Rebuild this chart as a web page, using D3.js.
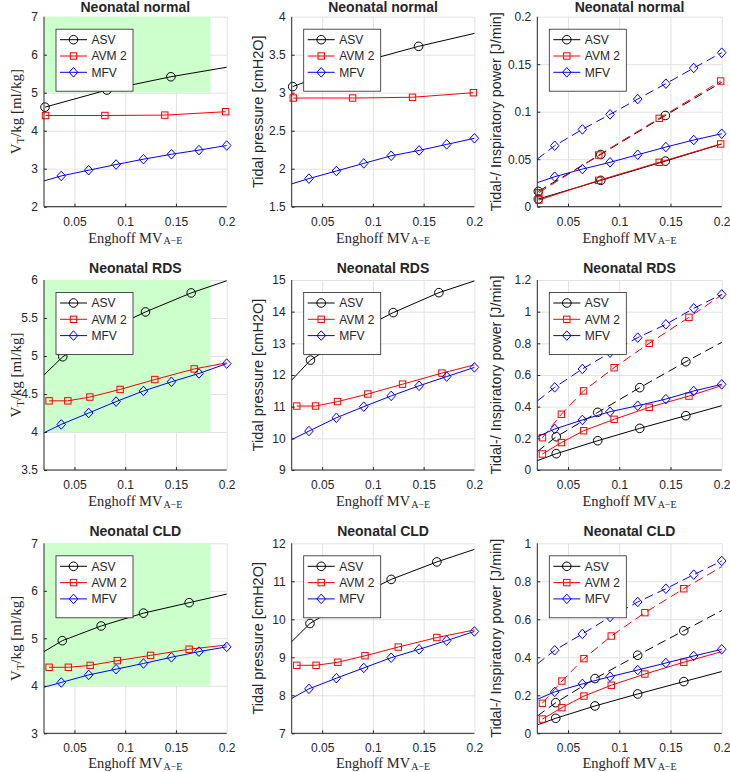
<!DOCTYPE html>
<html><head><meta charset="utf-8">
<script src="https://cdn.jsdelivr.net/npm/d3@7/dist/d3.min.js"></script>
<style>
body{margin:0;background:#fff}
svg{display:block}
text{font-family:"Liberation Sans",Arial,Helvetica,sans-serif;fill:#262626}
.serif{font-family:"Liberation Serif","Times New Roman",serif}
</style>
</head><body>
<svg id="chart" width="730" height="772"></svg>
<script>
// ---------------- DATA ----------------
const titles = ["Neonatal normal", "Neonatal RDS", "Neonatal CLD"];
const seriesNames = ["ASV", "AVM 2", "MFV"];
const xTicks = [0.05, 0.1, 0.15, 0.2];
const xDomain = [0.02, 0.2];

// x positions (Enghoff MV A-E) of each curve; marker masks (1 = marker drawn)
const xASVnorm = [0.021, 0.082, 0.145, 0.2];
const mkASVnorm = [1, 1, 1, 0];
const xAVMnorm = [0.0215, 0.08, 0.139, 0.199];
const mkAVMnorm = [1, 1, 1, 1];
const xMFV = [0.02, 0.037, 0.064, 0.091, 0.118, 0.1455, 0.1727, 0.2];
const mkMFV = [0, 1, 1, 1, 1, 1, 1, 1];
const xASVrds = [0.02, 0.0385, 0.079, 0.12, 0.165, 0.2];
const xASVcld = [0.02, 0.038, 0.0763, 0.118, 0.163, 0.2];
const mkASV = [0, 1, 1, 1, 1, 0];
const xAVMrds = [0.025, 0.0435, 0.0652, 0.095, 0.1292, 0.168, 0.2];
const xAVMcld = [0.025, 0.044, 0.0655, 0.0922, 0.125, 0.163, 0.2];
const mkAVM = [1, 1, 1, 1, 1, 1, 0];

// y tick values
const ticksVTnorm = [2, 3, 4, 5, 6, 7];
const ticksVTrds = [3.5, 4, 4.5, 5, 5.5, 6];
const ticksVTcld = [3, 4, 5, 6, 7];
const ticksPnorm = [1.5, 2, 2.5, 3, 3.5, 4];
const ticksPrds = [9, 10, 11, 12, 13, 14, 15];
const ticksPcld = [7, 8, 9, 10, 11, 12];
const ticksWnorm = [0, 0.05, 0.1, 0.15, 0.2];
const ticksWrds = [0, 0.2, 0.4, 0.6, 0.8, 1, 1.2];
const ticksWcld = [0, 0.2, 0.4, 0.6, 0.8, 1];

// green target zones [x0, x1] and [y0, y1]
const greenX = [0.02, 0.184];
const greenYnorm = [5, 7];
const greenYrds = [4, 6];
const greenYcld = [4, 7];

// Neonatal normal
const vtASVnorm = [4.62, 5.07, 5.42, 5.67];
const vtAVMnorm = [4.4, 4.4, 4.41, 4.5];
const vtMFVnorm = [2.68, 2.81, 2.96, 3.11, 3.25, 3.38, 3.49, 3.61];
const pASVnorm = [3.08, 3.38, 3.61, 3.78];
const pAVMnorm = [2.93, 2.93, 2.94, 3.0];
const pMFVnorm = [1.8, 1.87, 1.97, 2.07, 2.17, 2.24, 2.32, 2.40];
const wTidASVnorm = [0.0081, 0.0277, 0.048, 0.066];
const wInsASVnorm = [0.0161, 0.055, 0.096, 0.131];
const wTidAVMnorm = [0.007, 0.0277, 0.0467, 0.066];
const wInsAVMnorm = [0.0147, 0.0544, 0.093, 0.1323];
const wTidMFVnorm = [0.0253, 0.0316, 0.0396, 0.0467, 0.0547, 0.0628, 0.0702, 0.0768];
const wInsMFVnorm = [0.0502, 0.0642, 0.0814, 0.0972, 0.1133, 0.1295, 0.146, 0.1621];

// Neonatal RDS
const vtASVrds = [4.75, 4.99, 5.32, 5.58, 5.83, 5.99];
const vtAVMrds = [4.41, 4.41, 4.46, 4.56, 4.69, 4.83, 4.91];
const vtMFVrds = [3.99, 4.10, 4.25, 4.40, 4.54, 4.66, 4.77, 4.90];
const pASVrds = [11.84, 12.47, 13.3, 13.97, 14.6, 14.97];
const pAVMrds = [11.02, 11.02, 11.16, 11.4, 11.71, 12.06, 12.32];
const pMFVrds = [9.96, 10.23, 10.65, 11.0, 11.34, 11.66, 11.95, 12.24];
const wTidASVrds = [0.059, 0.103, 0.185, 0.263, 0.343, 0.406];
const wInsASVrds = [0.116, 0.21, 0.364, 0.52, 0.684, 0.806];
const wTidAVMrds = [0.101, 0.173, 0.248, 0.32, 0.396, 0.467, 0.533];
const wInsAVMrds = [0.204, 0.352, 0.50, 0.646, 0.80, 0.964, 1.105];
const wTidMFVrds = [0.21, 0.259, 0.316, 0.368, 0.406, 0.448, 0.499, 0.541];
const wInsMFVrds = [0.436, 0.522, 0.638, 0.741, 0.836, 0.92, 1.021, 1.109];

// Neonatal CLD
const vtASVcld = [4.72, 4.95, 5.26, 5.53, 5.75, 5.93];
const vtAVMcld = [4.39, 4.39, 4.43, 4.53, 4.64, 4.77, 4.86];
const vtMFVcld = [3.97, 4.07, 4.23, 4.35, 4.47, 4.60, 4.72, 4.82];
const pASVcld = [9.41, 9.89, 10.5, 11.05, 11.51, 11.84];
const pAVMcld = [8.79, 8.79, 8.87, 9.04, 9.27, 9.52, 9.72];
const pMFVcld = [7.92, 8.17, 8.45, 8.72, 8.99, 9.21, 9.44, 9.68];
const wTidASVcld = [0.044, 0.079, 0.144, 0.207, 0.272, 0.325];
const wInsASVcld = [0.091, 0.161, 0.288, 0.411, 0.54, 0.646];
const wTidAVMcld = [0.075, 0.135, 0.196, 0.253, 0.312, 0.374, 0.43];
const wInsAVMcld = [0.158, 0.275, 0.393, 0.512, 0.635, 0.761, 0.877];
const wTidMFVcld = [0.179, 0.218, 0.26, 0.298, 0.333, 0.37, 0.407, 0.442];
const wInsMFVcld = [0.365, 0.437, 0.523, 0.612, 0.691, 0.761, 0.835, 0.907];

// ---------------- LAYOUT ----------------
const colLeft = [44, 291.7, 537.3];
const colWidth = [182.7, 182.7, 184.4];
const rowTop = [16.7, 280, 543.3];
const rowHeight = 190;
const colors = {ASV: "#000000", AVM: "#ff0000", MFV: "#0000ff"};

function S(key, x, y, m, dashed) { return {key, x, y, m, dashed: !!dashed}; }

const rowsData = [
  {xA: xASVnorm, mA: mkASVnorm, xV: xAVMnorm, mV: mkAVMnorm, green: greenYnorm,
   vt: [ticksVTnorm, vtASVnorm, vtAVMnorm, vtMFVnorm],
   p: [ticksPnorm, pASVnorm, pAVMnorm, pMFVnorm],
   w: [ticksWnorm, wTidASVnorm, wInsASVnorm, wTidAVMnorm, wInsAVMnorm, wTidMFVnorm, wInsMFVnorm]},
  {xA: xASVrds, mA: mkASV, xV: xAVMrds, mV: mkAVM, green: greenYrds,
   vt: [ticksVTrds, vtASVrds, vtAVMrds, vtMFVrds],
   p: [ticksPrds, pASVrds, pAVMrds, pMFVrds],
   w: [ticksWrds, wTidASVrds, wInsASVrds, wTidAVMrds, wInsAVMrds, wTidMFVrds, wInsMFVrds]},
  {xA: xASVcld, mA: mkASV, xV: xAVMcld, mV: mkAVM, green: greenYcld,
   vt: [ticksVTcld, vtASVcld, vtAVMcld, vtMFVcld],
   p: [ticksPcld, pASVcld, pAVMcld, pMFVcld],
   w: [ticksWcld, wTidASVcld, wInsASVcld, wTidAVMcld, wInsAVMcld, wTidMFVcld, wInsMFVcld]}
];

const svg = d3.select("#chart");
const fmt = d3.format("~g");

function marker(g, key, cx, cy) {
  const col = colors[key];
  if (key === "ASV") {
    g.append("circle").attr("cx", cx).attr("cy", cy).attr("r", 4.3)
      .attr("fill", "none").attr("stroke", col).attr("stroke-width", 1);
  } else if (key === "AVM") {
    const s = 6.4;
    g.append("rect").attr("x", cx - s/2).attr("y", cy - s/2).attr("width", s).attr("height", s)
      .attr("fill", "none").attr("stroke", col).attr("stroke-width", 1);
  } else {
    const w = 4.3, h = 4.8;
    g.append("path").attr("d", `M${cx},${cy-h}L${cx+w},${cy}L${cx},${cy+h}L${cx-w},${cy}Z`)
      .attr("fill", "none").attr("stroke", col).attr("stroke-width", 1);
  }
}

function drawPanel(r, c, yTicks, series, green, ylabelKind) {
  const L = colLeft[c], T = rowTop[r], W = colWidth[c], H = rowHeight;
  const x = d3.scaleLinear().domain(xDomain).range([L, L + W]);
  const y = d3.scaleLinear().domain([yTicks[0], yTicks[yTicks.length - 1]]).range([T + H, T]);
  const g = svg.append("g");

  // grid
  const gx = g.append("g").attr("transform", `translate(0,${T + H})`)
    .call(d3.axisBottom(x).tickValues(xTicks).tickSize(-H).tickFormat(""));
  gx.select(".domain").remove();
  gx.selectAll("line").attr("stroke", "#e3e3e3");
  const gy = g.append("g").attr("transform", `translate(${L},0)`)
    .call(d3.axisLeft(y).tickValues(yTicks).tickSize(-W).tickFormat(""));
  gy.select(".domain").remove();
  gy.selectAll("line").attr("stroke", "#e3e3e3");

  // green zone
  if (green) {
    g.append("rect").attr("x", x(greenX[0])).attr("y", y(green[1]))
      .attr("width", x(greenX[1]) - x(greenX[0])).attr("height", y(green[0]) - y(green[1]))
      .attr("fill", "#ccffcc");
  }

  // lines
  const clipId = `clip${r}${c}`;
  svg.append("clipPath").attr("id", clipId).append("rect")
    .attr("x", L - 6).attr("y", T - 6).attr("width", W + 12).attr("height", H + 12);
  const dg = g.append("g").attr("clip-path", `url(#${clipId})`);
  series.forEach(s => {
    const pts = s.x.map((xv, i) => [xv, s.y[i]]);
    dg.append("path").attr("d", d3.line().x(d => x(d[0])).y(d => y(d[1]))(pts))
      .attr("fill", "none").attr("stroke", colors[s.key]).attr("stroke-width", 1)
      .attr("stroke-dasharray", s.dashed ? "9,5" : null);
    pts.forEach((p, i) => { if (s.m[i]) marker(dg, s.key, x(p[0]), y(p[1])); });
  });

  // axes lines + ticks
  const ax = g.append("g").attr("transform", `translate(0,${T + H})`)
    .call(d3.axisBottom(x).tickValues(xTicks).tickSize(-3).tickPadding(10.5).tickFormat(fmt));
  ax.select(".domain").attr("stroke", "#262626").attr("d", `M${L},0H${L + W}`);
  ax.selectAll("line").attr("stroke", "#262626");
  ax.selectAll("text").attr("font-size", 12).attr("fill", "#262626")
    .attr("font-family", '"Liberation Sans",Arial,sans-serif');
  const ay = g.append("g").attr("transform", `translate(${L},0)`)
    .call(d3.axisLeft(y).tickValues(yTicks).tickSize(-3).tickPadding(6).tickFormat(fmt));
  ay.select(".domain").attr("stroke", "#262626").attr("d", `M0,${T + H}V${T}`);
  ay.selectAll("line").attr("stroke", "#262626");
  ay.selectAll("text").attr("font-size", 12).attr("fill", "#262626")
    .attr("font-family", '"Liberation Sans",Arial,sans-serif');
  ax.selectAll("line").filter(d => d === xDomain[1]).remove();
  ay.selectAll("line").filter(d => d === yTicks[yTicks.length - 1]).remove();

  // title
  g.append("text").attr("x", L + W / 2).attr("y", Math.max(T - 7, 11.5)).attr("text-anchor", "middle")
    .attr("font-size", 14).attr("font-weight", "bold").attr("fill", "#000").text(titles[r]);

  // x label
  const xl = g.append("text").attr("class", "serif").attr("x", L + W / 2)
    .attr("y", Math.min(T + H + 36, 768))
    .attr("text-anchor", "middle").attr("font-size", 14.5).attr("fill", "#262626");
  xl.append("tspan").text("Enghoff MV");
  xl.append("tspan").attr("dy", 1.6).attr("font-size", 10).attr("dx", 1).text("A\u2212E");

  // y label
  const cy = T + H / 2;
  if (ylabelKind === "vt") {
    const yl = g.append("text").attr("class", "serif")
      .attr("transform", `translate(${L - 23.5},${cy}) rotate(-90)`)
      .attr("text-anchor", "middle").attr("font-size", 15).attr("fill", "#262626");
    yl.append("tspan").text("V");
    yl.append("tspan").attr("dy", 3).attr("font-size", 10.5).text("T");
    yl.append("tspan").attr("dy", -3).text("/kg [ml/kg]");
  } else if (ylabelKind === "p") {
    g.append("text").attr("transform", `translate(${L - 29},${cy}) rotate(-90)`)
      .attr("text-anchor", "middle").attr("font-size", 14.5).text("Tidal pressure [cmH2O]");
  } else {
    g.append("text").attr("transform", `translate(${L - 36},${cy}) rotate(-90)`)
      .attr("text-anchor", "middle").attr("font-size", 14.3).text("Tidal-/ Inspiratory power [J/min]");
  }

  // legend
  const lx = L + 12, ly = T + 12.5, lw = 77, lh = 62;
  const lg = g.append("g");
  lg.append("rect").attr("x", lx).attr("y", ly).attr("width", lw).attr("height", lh)
    .attr("fill", "#fff").attr("stroke", "#262626").attr("stroke-width", 0.8);
  ["ASV", "AVM", "MFV"].forEach((k, i) => {
    const yy = ly + 10.5 + i * 16.3;
    lg.append("line").attr("x1", lx + 4).attr("x2", lx + 31).attr("y1", yy).attr("y2", yy)
      .attr("stroke", colors[k]).attr("stroke-width", 1);
    marker(lg, k, lx + 17.5, yy);
    lg.append("text").attr("x", lx + 35.5).attr("y", yy + 4.3).attr("font-size", 12)
      .attr("fill", "#000").text(seriesNames[i]);
  });
}

rowsData.forEach((rd, r) => {
  drawPanel(r, 0, rd.vt[0], [
    S("ASV", rd.xA, rd.vt[1], rd.mA),
    S("AVM", rd.xV, rd.vt[2], rd.mV),
    S("MFV", xMFV, rd.vt[3], mkMFV)
  ], rd.green, "vt");
  drawPanel(r, 1, rd.p[0], [
    S("ASV", rd.xA, rd.p[1], rd.mA),
    S("AVM", rd.xV, rd.p[2], rd.mV),
    S("MFV", xMFV, rd.p[3], mkMFV)
  ], null, "p");
  drawPanel(r, 2, rd.w[0], [
    S("ASV", rd.xA, rd.w[1], rd.mA, false),
    S("ASV", rd.xA, rd.w[2], rd.mA, true),
    S("AVM", rd.xV, rd.w[3], rd.mV, false),
    S("AVM", rd.xV, rd.w[4], rd.mV, true),
    S("MFV", xMFV, rd.w[5], mkMFV, false),
    S("MFV", xMFV, rd.w[6], mkMFV, true)
  ], null, "w");
});
</script>
</body></html>
